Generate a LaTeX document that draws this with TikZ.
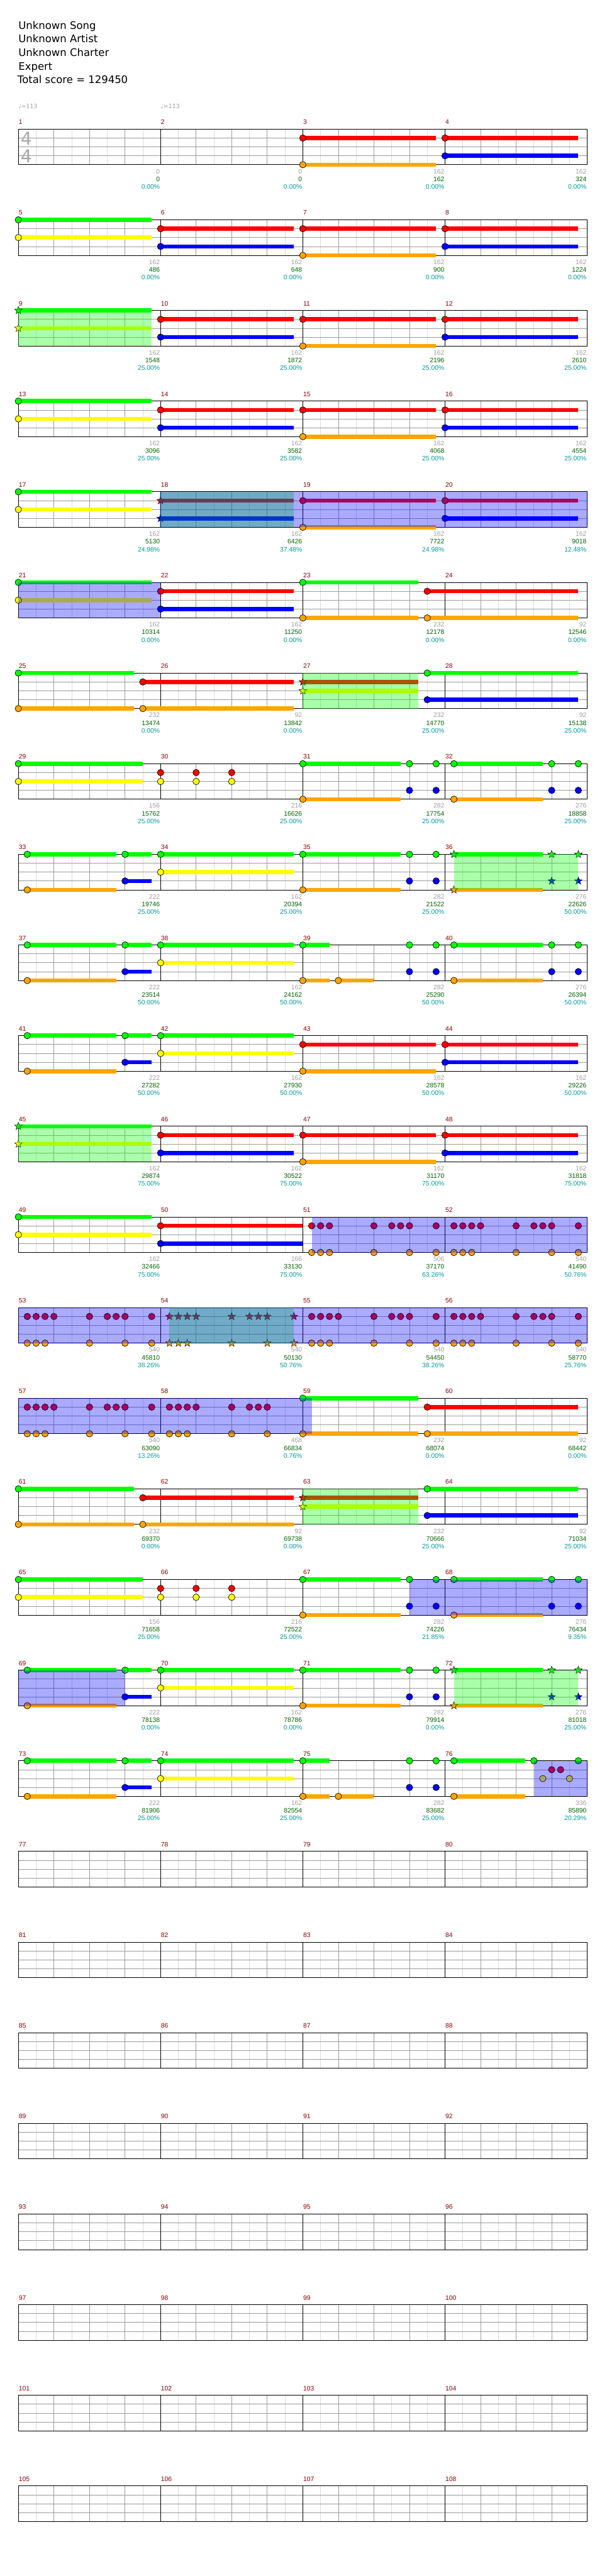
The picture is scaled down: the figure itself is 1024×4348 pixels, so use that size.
\documentclass[tikz,border=0pt]{standalone}
\usepackage{fontspec}
\setmainfont{DejaVu Sans}
\newfontfamily\numfont{Liberation Sans}
\definecolor{nG}{HTML}{00FF00}
\definecolor{nR}{HTML}{FF0000}
\definecolor{nY}{HTML}{FFFF00}
\definecolor{nB}{HTML}{0000FF}
\definecolor{nO}{HTML}{FFA500}
\definecolor{gridD}{HTML}{9C9C9C}
\definecolor{gridL}{HTML}{DCDCDC}
\definecolor{mnumc}{HTML}{8B0000}
\definecolor{sgreyc}{HTML}{A0A0A0}
\definecolor{sgreenc}{HTML}{006400}
\definecolor{stealc}{HTML}{009B9B}
\definecolor{tsig}{HTML}{A8A8A8}
\tikzset{
 lgrid/.style={gridL, line width=0.8pt},
 dgrid/.style={gridD, line width=0.8pt},
 frame/.style={black, line width=0.9pt},
 mnum/.style={mnumc, anchor=base west, inner sep=0pt, font=\numfont\fontsize{11}{12}\selectfont},
 sgrey/.style={sgreyc, anchor=base east, inner sep=0pt, font=\numfont\fontsize{11}{12}\selectfont},
 sgreen/.style={sgreenc, anchor=base east, inner sep=0pt, font=\numfont\fontsize{11}{12}\selectfont},
 steal/.style={stealc, anchor=base east, inner sep=0pt, font=\numfont\fontsize{11}{12}\selectfont},
 titletext/.style={black, anchor=base west, inner sep=0pt, font=\fontsize{17.5}{21}\selectfont},
 tempo/.style={sgreyc, anchor=west, inner sep=0pt, font=\fontsize{10}{12}\selectfont},
 tsnum/.style={tsig, inner sep=0pt, font=\fontsize{30}{30}\selectfont},
 noteline/.style={draw=black, line width=0.7pt},
 starline/.style={draw=black, line width=0.5pt},
}
% basic elements
\newcommand\qnt[3]{\filldraw[noteline,fill=#3] ({#1},{#2}) circle[radius=5.5];}
\newcommand\qsn[3]{\filldraw[starline,fill=#3] ({#1},{#2}) +(-90:6.8) -- +(-54:2.8) -- +(-18:6.8) -- +(18:2.8) -- +(54:6.8) -- +(90:2.8) -- +(126:6.8) -- +(162:2.8) -- +(198:6.8) -- +(234:2.8) -- cycle;}
\newcommand\qsu[4]{\fill[#4] ({#1},{#3-3.5}) rectangle ({#2},{#3+3.5});}
\newcommand\qns[4]{\qsu{#1}{#2}{#3}{#4}\qnt{#1}{#3}{#4}}
\newcommand\qss[4]{\qsu{#1}{#2}{#3}{#4}\qsn{#1}{#3}{#4}}
\newcommand\qBL[2]{\fill[nB,fill opacity=0.3333] ({#1},0) rectangle ({#2},60);}
\newcommand\qGR[2]{\fill[nG,fill opacity=0.3333] ({#1},0) rectangle ({#2},60);}
% measure patterns
\newcommand\qGY[1]{\qns{#1}{#1+225}{0}{nG}\qns{#1}{#1+225}{30}{nY}}
\newcommand\qRB[1]{\qns{#1}{#1+225}{15}{nR}\qns{#1}{#1+225}{45}{nB}}
\newcommand\qRO[1]{\qns{#1}{#1+225}{15}{nR}\qns{#1}{#1+225}{60}{nO}}
\newcommand\qsGY[1]{\qss{#1}{#1+225}{0}{nG}\qss{#1}{#1+225}{30}{nY}}
\newcommand\qsRB[1]{\qss{#1}{#1+225}{15}{nR}\qss{#1}{#1+225}{45}{nB}}
\newcommand\qT[1]{\qns{#1}{#1+210}{0}{nG}\qns{#1}{#1+210}{30}{nY}}
\newcommand\qL[1]{\foreach \k in {0,60,120}{\qnt{#1+\k}{15}{nR}\qnt{#1+\k}{30}{nY}}}
\newcommand\qM[1]{\qns{#1}{#1+165}{0}{nG}\qns{#1}{#1+165}{60}{nO}\qnt{#1+180}{0}{nG}\qnt{#1+225}{0}{nG}\qnt{#1+180}{45}{nB}\qnt{#1+225}{45}{nB}}
\newcommand\qN[1]{\qns{#1+15}{#1+165}{0}{nG}\qns{#1+15}{#1+165}{60}{nO}\qnt{#1+180}{0}{nG}\qnt{#1+225}{0}{nG}\qnt{#1+180}{45}{nB}\qnt{#1+225}{45}{nB}}
\newcommand\qNs[1]{\qss{#1+15}{#1+165}{0}{nG}\qss{#1+15}{#1+165}{60}{nO}\qsn{#1+180}{0}{nG}\qsn{#1+225}{0}{nG}\qsn{#1+180}{45}{nB}\qsn{#1+225}{45}{nB}}
\newcommand\qK[1]{\qns{#1+15}{#1+165}{0}{nG}\qns{#1+15}{#1+165}{60}{nO}\qns{#1+180}{#1+225}{0}{nG}\qns{#1+180}{#1+225}{45}{nB}}
\newcommand\qQ[1]{\qns{#1}{#1+45}{0}{nG}\qns{#1}{#1+45}{60}{nO}\qns{#1+60}{#1+120}{60}{nO}\qnt{#1+180}{0}{nG}\qnt{#1+225}{0}{nG}\qnt{#1+180}{45}{nB}\qnt{#1+225}{45}{nB}}
\newcommand\qS[1]{\foreach \k in {1,2,3,4,8,10,11,12,15}{\qnt{#1+15*\k}{15}{nR}}\foreach \k in {1,2,3,8,12,15}{\qnt{#1+15*\k}{60}{nO}}}
\newcommand\qSs[1]{\foreach \k in {1,2,3,4,8,10,11,12,15}{\qsn{#1+15*\k}{15}{nR}}\foreach \k in {1,2,3,8,12,15}{\qsn{#1+15*\k}{60}{nO}}}
\newcommand\qW{\qns{31}{226}{0}{nG}\qns{31}{226}{60}{nO}\qns{241}{496}{15}{nR}\qns{241}{496}{60}{nO}\qss{511}{706}{15}{nR}\qss{511}{706}{30}{nY}\qns{721}{976}{0}{nG}\qns{721}{976}{45}{nB}\qGR{511}{706}}
% staff, scores, rows
\newcommand\qStaff[1]{%
  \foreach \i in {0,...,15} {\draw[lgrid] ({61+60*\i},0) -- ({61+60*\i},60);}
  \foreach \i in {0,...,15} {\draw[dgrid] ({31+60*\i},0) -- ({31+60*\i},60);}
  \foreach \yy in {15,30,45} {\draw[dgrid] (31,\yy) -- (991,\yy);}
  \foreach \i in {1,2,3} {\draw[frame] ({31+240*\i},0) -- ({31+240*\i},60);}
  \draw[frame] (31,0) rectangle (991,60);
  \foreach \c in {0,1,2,3} {\pgfmathtruncatemacro\mm{4*#1+\c+1}\node[mnum] (mn\mm) at ({31.5+240*\c},-8) {\mm};}
}
\newcommand\qSc[4]{%
  \pgfmathtruncatemacro\cc{mod(#1-1,4)}%
  \node[sgrey] (sa#1) at ({270+240*\cc},75) {#2};
  \node[sgreen] (sb#1) at ({270+240*\cc},88) {#3};
  \node[steal] (sc#1) at ({270+240*\cc},101) {#4\%};}
\newcommand\qRow[2]{\begin{scope}[yshift={-(218+153*#1)*1pt}]\qStaff{#1}#2\end{scope}}
\begin{document}
\begin{tikzpicture}[x=1pt,y=-1pt]
\useasboundingbox (0,0) rectangle (1024,4348);
\fill[white] (0,0) rectangle (1024,4348);
\node[titletext] (t1) at (31,49) {Unknown Song};
\node[titletext] (t2) at (31,72) {Unknown Artist};
\node[titletext] (t3) at (31,95) {Unknown Charter};
\node[titletext] (t4) at (31,118) {Expert};
\node[titletext] (t5) at (29.5,141) {Total score = 129450};
\qRow{0}{%
 \node[tempo] (tp1) at (31,-39) {♩=113};
 \node[tempo] (tp2) at (271,-39) {♩=113};
 \node[tsnum] (ts1) at (44.5,15.5) {4};
 \node[tsnum] (ts2) at (44.5,45.5) {4};
 \qRO{511}\qRB{751}
 \qSc{1}{0}{0}{0.00}\qSc{2}{0}{0}{0.00}\qSc{3}{162}{162}{0.00}\qSc{4}{162}{324}{0.00}}
\qRow{1}{\qGY{31}\qRB{271}\qRO{511}\qRB{751}
 \qSc{5}{162}{486}{0.00}\qSc{6}{162}{648}{0.00}\qSc{7}{162}{900}{0.00}\qSc{8}{162}{1224}{0.00}}
\qRow{2}{\qsGY{31}\qRB{271}\qRO{511}\qRB{751}\qGR{31}{256}
 \qSc{9}{162}{1548}{25.00}\qSc{10}{162}{1872}{25.00}\qSc{11}{162}{2196}{25.00}\qSc{12}{162}{2610}{25.00}}
\qRow{3}{\qGY{31}\qRB{271}\qRO{511}\qRB{751}
 \qSc{13}{162}{3096}{25.00}\qSc{14}{162}{3582}{25.00}\qSc{15}{162}{4068}{25.00}\qSc{16}{162}{4554}{25.00}}
\qRow{4}{\qGY{31}\qsRB{271}\qRO{511}\qRB{751}\qGR{271}{496}\qBL{270}{991}
 \qSc{17}{162}{5130}{24.98}\qSc{18}{162}{6426}{37.48}\qSc{19}{162}{7722}{24.98}\qSc{20}{162}{9018}{12.48}}
\qRow{5}{\qGY{31}\qRB{271}\qns{511}{706}{0}{nG}\qns{511}{706}{60}{nO}\qns{721}{976}{15}{nR}\qns{721}{976}{60}{nO}\qBL{31}{271}
 \qSc{21}{162}{10314}{0.00}\qSc{22}{162}{11250}{0.00}\qSc{23}{232}{12178}{0.00}\qSc{24}{92}{12546}{0.00}}
\qRow{6}{\qW
 \qSc{25}{232}{13474}{0.00}\qSc{26}{92}{13842}{0.00}\qSc{27}{232}{14770}{25.00}\qSc{28}{92}{15138}{25.00}}
\qRow{7}{\qT{31}\qL{271}\qM{511}\qN{751}
 \qSc{29}{156}{15762}{25.00}\qSc{30}{216}{16626}{25.00}\qSc{31}{282}{17754}{25.00}\qSc{32}{276}{18858}{25.00}}
\qRow{8}{\qK{31}\qGY{271}\qM{511}\qNs{751}\qGR{766}{976}
 \qSc{33}{222}{19746}{25.00}\qSc{34}{162}{20394}{25.00}\qSc{35}{282}{21522}{25.00}\qSc{36}{276}{22626}{50.00}}
\qRow{9}{\qK{31}\qGY{271}\qQ{511}\qN{751}
 \qSc{37}{222}{23514}{50.00}\qSc{38}{162}{24162}{50.00}\qSc{39}{282}{25290}{50.00}\qSc{40}{276}{26394}{50.00}}
\qRow{10}{\qK{31}\qGY{271}\qRO{511}\qRB{751}
 \qSc{41}{222}{27282}{50.00}\qSc{42}{162}{27930}{50.00}\qSc{43}{162}{28578}{50.00}\qSc{44}{162}{29226}{50.00}}
\qRow{11}{\qsGY{31}\qRB{271}\qRO{511}\qRB{751}\qGR{31}{256}
 \qSc{45}{162}{29874}{75.00}\qSc{46}{162}{30522}{75.00}\qSc{47}{162}{31170}{75.00}\qSc{48}{162}{31818}{75.00}}
\qRow{12}{\qGY{31}\qns{271}{511}{15}{nR}\qns{271}{511}{45}{nB}
 \foreach \k in {1,2,3,8,10,11,12,15}{\qnt{511+15*\k}{15}{nR}}\foreach \k in {1,2,3,8,12,15}{\qnt{511+15*\k}{60}{nO}}
 \qS{751}\qBL{526}{991}
 \qSc{49}{162}{32466}{75.00}\qSc{50}{166}{33130}{75.00}\qSc{51}{506}{37170}{63.26}\qSc{52}{540}{41490}{50.76}}
\qRow{13}{\qS{31}\qSs{271}\qS{511}\qS{751}\qGR{286}{496}\qBL{31}{991}
 \qSc{53}{540}{45810}{38.26}\qSc{54}{540}{50130}{50.76}\qSc{55}{540}{54450}{38.26}\qSc{56}{540}{58770}{25.76}}
\qRow{14}{\qS{31}
 \foreach \k in {1,2,3,4,8,10,11,12}{\qnt{271+15*\k}{15}{nR}}\foreach \k in {1,2,3,8,12}{\qnt{271+15*\k}{60}{nO}}
 \qns{511}{706}{0}{nG}\qns{511}{706}{60}{nO}\qns{721}{976}{15}{nR}\qns{721}{976}{60}{nO}\qBL{31}{526}
 \qSc{57}{540}{63090}{13.26}\qSc{58}{468}{66834}{0.76}\qSc{59}{232}{68074}{0.00}\qSc{60}{92}{68442}{0.00}}
\qRow{15}{\qW
 \qSc{61}{232}{69370}{0.00}\qSc{62}{92}{69738}{0.00}\qSc{63}{232}{70666}{25.00}\qSc{64}{92}{71034}{25.00}}
\qRow{16}{\qT{31}\qL{271}\qM{511}\qN{751}\qBL{691}{991}
 \qSc{65}{156}{71658}{25.00}\qSc{66}{216}{72522}{25.00}\qSc{67}{282}{74226}{21.85}\qSc{68}{276}{76434}{9.35}}
\qRow{17}{\qK{31}\qGY{271}\qM{511}\qNs{751}\qBL{31}{211}\qGR{766}{976}
 \qSc{69}{222}{78138}{0.00}\qSc{70}{162}{78786}{0.00}\qSc{71}{282}{79914}{0.00}\qSc{72}{276}{81018}{25.00}}
\qRow{18}{\qK{31}\qGY{271}\qQ{511}
 \qns{766}{886}{0}{nG}\qns{766}{886}{60}{nO}\qnt{901}{0}{nG}\qnt{976}{0}{nG}\qnt{931}{15}{nR}\qnt{946}{15}{nR}\qnt{916}{30}{nY}\qnt{961}{30}{nY}\qBL{901}{991}
 \qSc{73}{222}{81906}{25.00}\qSc{74}{162}{82554}{25.00}\qSc{75}{282}{83682}{25.00}\qSc{76}{336}{85890}{20.29}}
\qRow{19}{}
\qRow{20}{}
\qRow{21}{}
\qRow{22}{}
\qRow{23}{}
\qRow{24}{}
\qRow{25}{}
\qRow{26}{}
\end{tikzpicture}
\end{document}
